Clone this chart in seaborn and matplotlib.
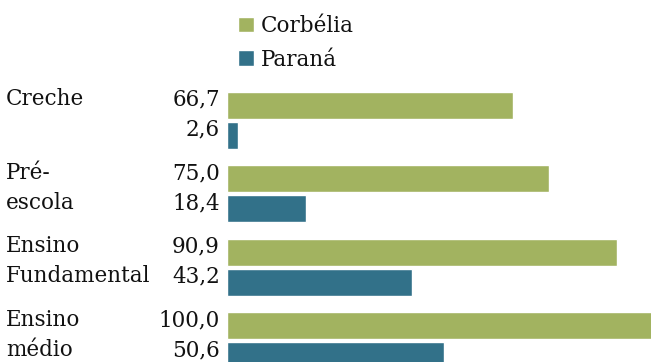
import matplotlib
matplotlib.use("Agg")
import matplotlib.pyplot as plt
import matplotlib.transforms as mtransforms
import pandas as pd
import seaborn as sns

# Taxa de atendimento escolar por etapa (%)
categorias = ["Creche", "Pré-\nescola", "Ensino\nFundamental", "Ensino\nmédio"]
corbelia = [66.7, 75.0, 90.9, 100.0]
parana = [2.6, 18.4, 43.2, 50.6]
series = ["Corbélia", "Paraná"]
cores = ["#A2B360", "#327189"]

df = pd.DataFrame({
    "categoria": categorias * 2,
    "valor": corbelia + parana,
    "local": [series[0]] * len(categorias) + [series[1]] * len(categorias),
})

sns.set_theme(style="white")
plt.rcParams["font.family"] = ["DejaVu Serif"]
FS = 15.5
TXT = "#111111"

fig = plt.figure(figsize=(6.51, 3.62), dpi=100)
ax = fig.add_axes([227 / 651, 0, 424 / 651, 1])

sns.barplot(data=df, y="categoria", x="valor", hue="local", orient="h",
            palette=cores, width=0.816, gap=0.1, dodge=True, ax=ax,
            saturation=1)

ax.set_xlim(0, 98.8)
ax.set_ylim(3.286, -1.639)
ax.set_xlabel("")
ax.set_ylabel("")
ax.set_xticks([])
ax.set_yticks([])
for s in ax.spines.values():
    s.set_visible(False)

# value labels to the left of each bar
for cont in ax.containers:
    for bar in cont:
        v = bar.get_width()
        yc = bar.get_y() + bar.get_height() / 2
        ax.annotate(f"{v:.1f}".replace(".", ","), xy=(0, yc),
                    xytext=(-5.2, 0), textcoords="offset points",
                    ha="right", va="baseline", fontsize=FS, color=TXT)

# category labels, one line per bar row
trans = mtransforms.blended_transform_factory(fig.transFigure, ax.transData)
green_bars = list(ax.containers[0])
blue_bars = list(ax.containers[1])
for i, cat in enumerate(categorias):
    rows = [green_bars[i], blue_bars[i]]
    for j, linha in enumerate(cat.split("\n")):
        b = rows[j]
        yc = b.get_y() + b.get_height() / 2
        ax.text(6 / 651, yc, linha, transform=trans, ha="left",
                va="baseline", fontsize=FS, color=TXT)

sns.move_legend(ax, "upper left", bbox_to_anchor=(238 / 651, 1 - 15 / 362),
                bbox_transform=fig.transFigure, title=None, frameon=False,
                fontsize=FS, handlelength=0.76, handleheight=0.76,
                handletextpad=0.28, labelspacing=0.55, borderpad=0,
                borderaxespad=0)
for t in ax.get_legend().get_texts():
    t.set_color(TXT)

fig.savefig("out.png", dpi=100)
